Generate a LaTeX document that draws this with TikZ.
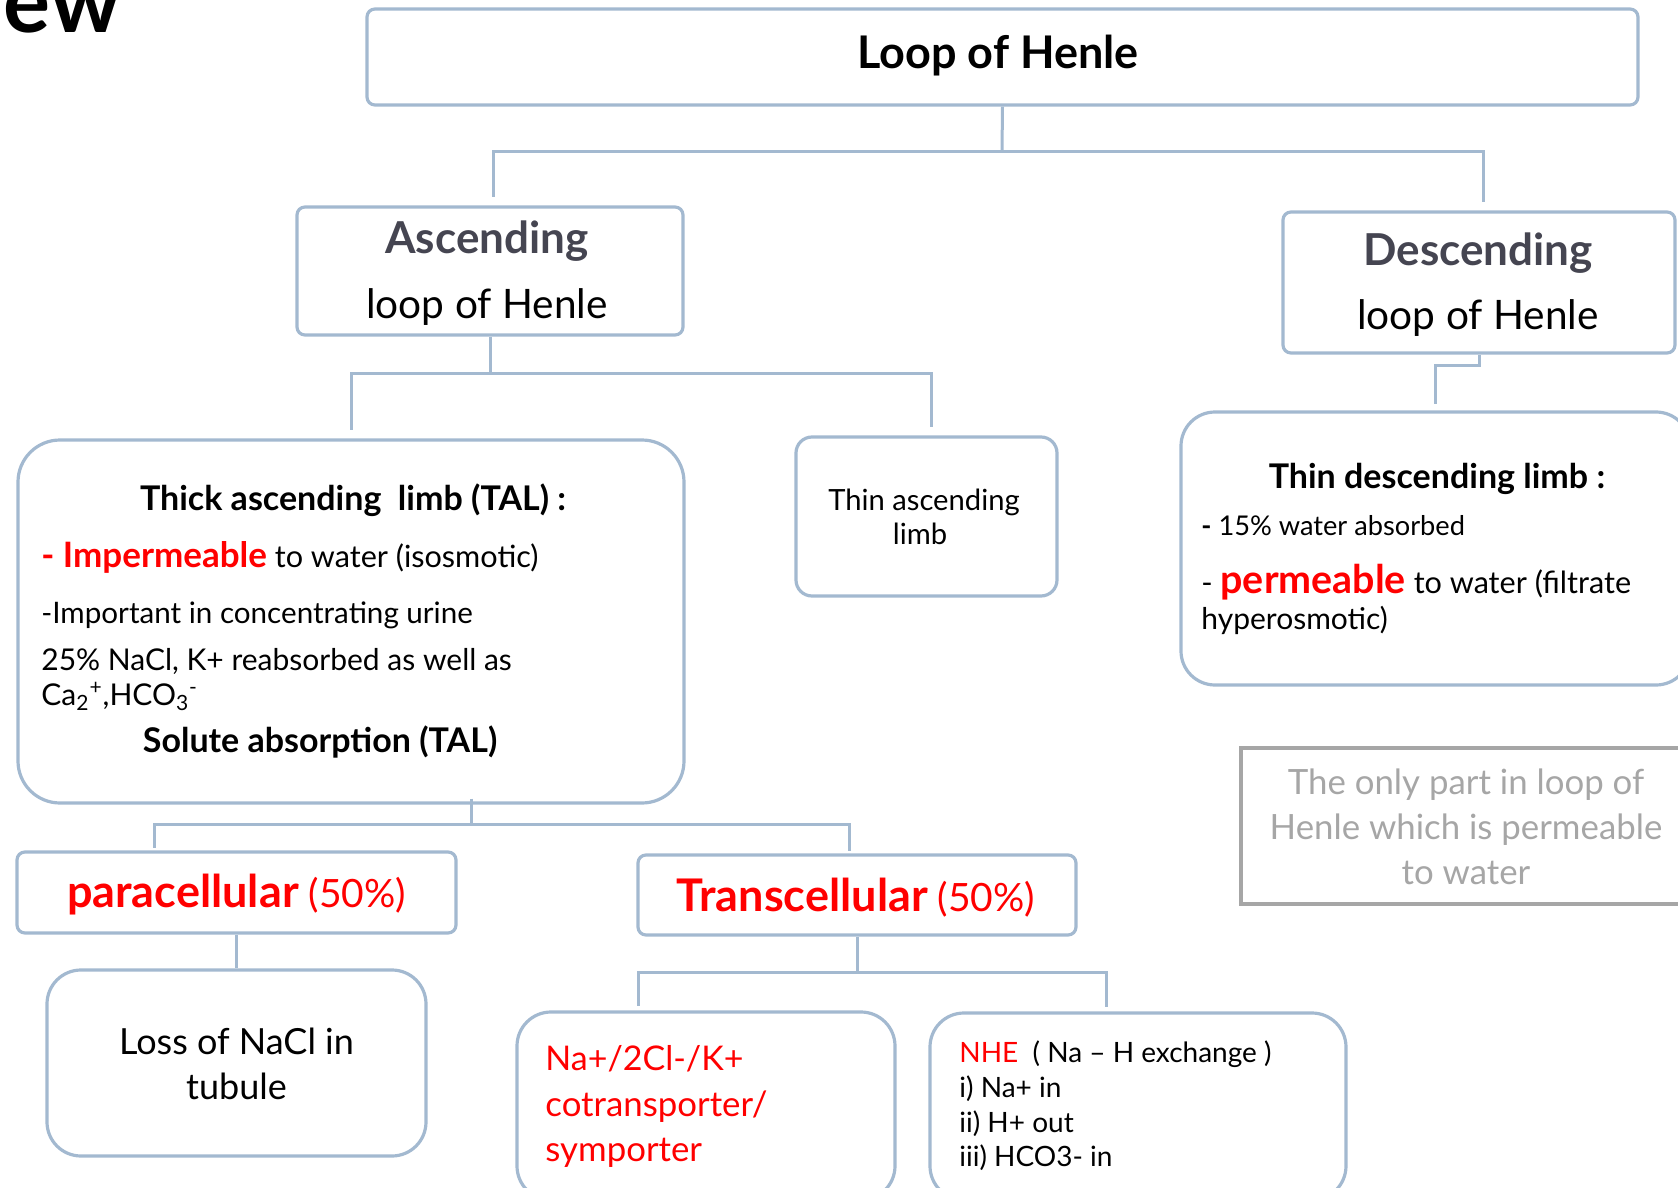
\documentclass[tikz,border=0pt]{standalone}
\usepackage{fontspec}
\setmainfont{Lato}
\usetikzlibrary{calc}

\definecolor{lineblue}{RGB}{163,185,208}
\definecolor{headgray}{RGB}{69,69,81}
\definecolor{notegray}{RGB}{166,166,166}
\definecolor{hred}{RGB}{255,0,0}
\newcommand{\sz}[1]{\fontsize{#1}{#1}\selectfont}

\tikzset{
  box/.style={draw=lineblue, line width=1.6pt, rounded corners=4pt, inner sep=0pt},
  rbox/.style={box, rounded corners=#1},
  notebox/.style={draw=notegray, line width=1.6pt, inner sep=0pt},
  link/.style={draw=lineblue, line width=1.5pt},
  txt/.style={inner sep=0pt, anchor=base},
  ltxt/.style={inner sep=0pt, anchor=base west},
}

\begin{document}
\begin{tikzpicture}[x=0.5pt,y=-0.5pt]
  \useasboundingbox (0,0) rectangle (1678,1188);
  \clip (0,0) rectangle (1678,1188);

  % boxes
  \node[box, minimum width=635.5pt, minimum height=48pt] (top) at (1002.5,57) {};
  \node[box, minimum width=193pt, minimum height=64pt] (asc) at (490,271) {};
  \node[box, minimum width=196pt, minimum height=70.5pt] (desc) at (1479,282.5) {};
  \node[rbox=21pt, minimum width=333pt, minimum height=181.5pt] (tal) at (351,621.5) {};
  \node[rbox=8pt, minimum width=130.5pt, minimum height=79.5pt] (thinasc) at (926.5,516.5) {};
  \node[rbox=17pt, minimum width=254.5pt, minimum height=136.5pt] (thindesc) at (1435.5,548.5) {};
  \node[notebox, minimum width=224.5pt, minimum height=78pt] (note) at (1465.5,826) {};
  \node[box, minimum width=219.5pt, minimum height=40.5pt] (para) at (236.5,892.5) {};
  \node[box, minimum width=219pt, minimum height=40pt] (trans) at (857,895) {};
  \node[rbox=17pt, minimum width=189.5pt, minimum height=93pt] (loss) at (236.5,1063) {};
  \node[rbox=17pt, minimum width=189pt, minimum height=94pt] (nkcc) at (706,1106) {};
  \node[rbox=17pt, minimum width=208pt, minimum height=93.5pt] (nhe) at (1138,1106.5) {};

  % connectors
  \coordinate (bus1) at (1002,152);
  \coordinate (bus2) at (490,373);
  \coordinate (bus3) at (471,824);
  \coordinate (bus4) at (857,972);
  \draw[link] (top.south) -- (bus1);
  \draw[link, shorten >=4pt] (bus1) -| ([xshift=1.5pt]asc.north);
  \draw[link, shorten >=4pt] (bus1) -| ([xshift=2pt]desc.north);
  \draw[link] (asc.south) -- (bus2);
  \draw[link, shorten >=4pt] (bus2) -| (tal.north);
  \draw[link, shorten >=4pt] (bus2) -| ([xshift=2.5pt]thinasc.north);
  \draw[link, shorten >=3pt] (desc.south) -- ++(0,11) -| (thindesc.north);
  \draw[link] ([xshift=60pt,yshift=3pt]tal.south) -- (bus3);
  \draw[link, shorten >=1pt] (bus3) -| ([xshift=-41pt]para.north);
  \draw[link, shorten >=1pt] (bus3) -| ([xshift=-4pt]trans.north);
  \draw[link] (para) -- (loss);
  \draw[link] (trans.south) -- (bus4);
  \draw[link, shorten >=2pt] (bus4) -| ([xshift=-34pt]nkcc.north);
  \draw[link, shorten >=2pt] (bus4) -| ([xshift=-16pt]nhe.north);

  % texts
  \node[inner sep=0pt, anchor=base east, font=\sz{44pt}\bfseries] (ew) at (121,33) {ew};
  \node[txt, font=\sz{22.5pt}\bfseries] (toptxt) at (998,68.5) {Loop of Henle};
  \node[txt, font=\sz{22pt}\bfseries, text=headgray] (asc1) at (487,254) {Ascending};
  \node[txt, font=\sz{20.3pt}] (asc2) at (487,318) {loop of Henle};
  \node[txt, font=\sz{22pt}\bfseries, text=headgray] (desc1) at (1478,265) {Descending};
  \node[txt, font=\sz{20.3pt}] (desc2) at (1478,329) {loop of Henle};

  \node[txt, font=\sz{17pt}\bfseries] (tal1) at (353,510.5) {Thick ascending\ \ limb (TAL) :};
  \node[ltxt, font=\sz{15.3pt}] (tal2) at (41,567) {\textcolor{hred}{\sz{17.5pt}\bfseries - Impermeable} to water (isosmotic)};
  \node[ltxt, font=\sz{14.8pt}] (tal3) at (41,623) {-Important in concentrating urine};
  \node[ltxt, font=\sz{15pt}] (tal4) at (41,670) {25\% NaCl, K+ reabsorbed as well as};
  \node[ltxt, font=\sz{15pt}] (tal5) at (41,705) {Ca\textsubscript{2}\textsuperscript{+},HCO\textsubscript{3}\textsuperscript{-}};
  \node[txt, font=\sz{17pt}\bfseries] (tal6) at (320,752) {Solute absorption (TAL)};

  \node[txt, font=\sz{14.6pt}] (thinasc1) at (924,510) {Thin ascending};
  \node[txt, font=\sz{14.6pt}] (thinasc2) at (920,544) {limb};

  \node[txt, font=\sz{17pt}\bfseries] (td1) at (1437,488) {Thin descending limb :};
  \node[ltxt, font=\sz{13.6pt}] (td2) at (1201,535) {\textbf{-} 15\% water absorbed};
  \node[ltxt, font=\sz{15.3pt}] (td3) at (1201,593) {- \textcolor{hred}{\sz{19.7pt}\bfseries permeable}\ to water (filtrate};
  \node[ltxt, font=\sz{15pt}] (td4) at (1201,629) {hyperosmotic)};

  \node[txt, font=\sz{17.4pt}, text=notegray] (note1) at (1466,794) {The only part in loop of};
  \node[txt, font=\sz{17.4pt}, text=notegray] (note2) at (1466,839) {Henle which is permeable};
  \node[txt, font=\sz{17.4pt}, text=notegray] (note3) at (1466,884) {to water};

  \node[txt, font=\sz{19.5pt}, text=hred] (paratxt) at (236.5,907.5) {{\sz{22.5pt}\bfseries paracellular} (50\%)};
  \node[txt, font=\sz{19.5pt}, text=hred] (transtxt) at (856,911) {{\sz{22.5pt}\bfseries Transcellular} (50\%)};

  \node[txt, font=\sz{18pt}] (loss1) at (236.5,1054) {Loss of NaCl in};
  \node[txt, font=\sz{18pt}] (loss2) at (236.5,1099) {tubule};

  \node[ltxt, font=\sz{17pt}, text=hred] (nkcc1) at (545,1070) {Na+/2Cl-/K+};
  \node[ltxt, font=\sz{17.4pt}, text=hred] (nkcc2) at (545,1116) {cotransporter/};
  \node[ltxt, font=\sz{17.4pt}, text=hred] (nkcc3) at (545,1161) {symporter};

  \node[ltxt, font=\sz{14pt}] (nhe1) at (959,1062) {\textcolor{hred}{NHE}\ \ ( Na – H exchange )};
  \node[ltxt, font=\sz{14pt}] (nhe2) at (959,1097) {i) Na+ in};
  \node[ltxt, font=\sz{14pt}] (nhe3) at (959,1132) {ii) H+ out};
  \node[ltxt, font=\sz{14pt}] (nhe4) at (959,1166) {iii) HCO3- in};
\end{tikzpicture}
\end{document}
